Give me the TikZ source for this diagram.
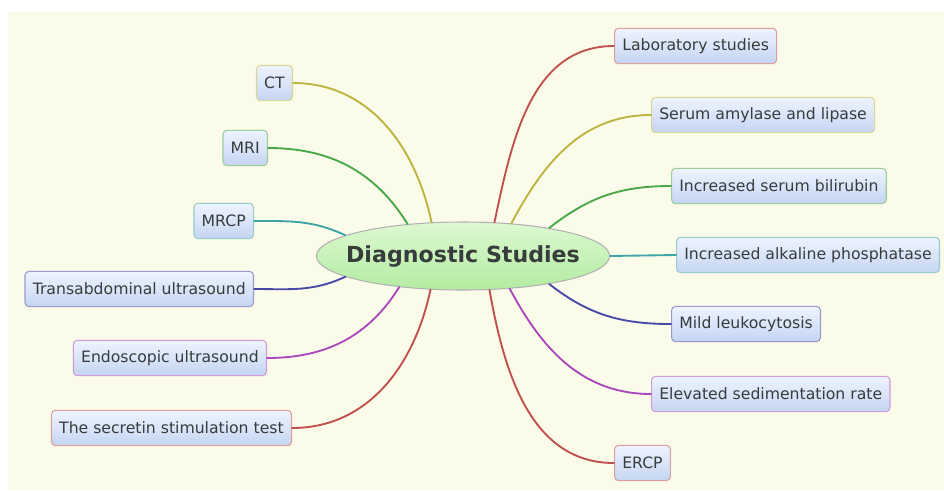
\documentclass[tikz,border=0pt]{standalone}
\usepackage{fontspec}
\setmainfont{DejaVu Sans}
\usetikzlibrary{shapes.geometric}

\definecolor{cream}{RGB}{251,251,233}
\definecolor{boxtop}{RGB}{238,244,255}
\definecolor{boxbot}{RGB}{196,213,242}
\definecolor{hubtop}{RGB}{222,248,210}
\definecolor{hubbot}{RGB}{178,236,160}
\definecolor{ink}{RGB}{55,60,60}
\definecolor{cred}{RGB}{192,80,77}
\definecolor{colive}{RGB}{188,180,62}
\definecolor{cgreen}{RGB}{72,168,72}
\definecolor{cteal}{RGB}{62,164,168}
\definecolor{cblue}{RGB}{72,72,168}
\definecolor{cpurple}{RGB}{170,72,188}

\tikzset{
  leaf/.style={draw=#1!55, line width=0.8pt, rounded corners=3pt,
    top color=boxtop, bottom color=boxbot, text=ink,
    minimum height=26.5pt, inner xsep=5.8pt, font=\fontsize{11.75}{13}\selectfont},
  hub/.style={ellipse, draw=gray!60, line width=0.8pt, top color=hubtop,
    bottom color=hubbot, minimum width=220pt, minimum height=51pt, inner sep=0pt},
  branch/.style={draw=#1, line width=1.4pt, line cap=round}
}

\begin{document}
\begin{tikzpicture}[x=0.75pt, y=-0.75pt]
    % pozadí
    \useasboundingbox (0,0) rectangle (944,490);
    \fill[white] (0,0) rectangle (944,490);
    \fill[cream] (8,12) rectangle (944,490);

    % střed
    \node[hub] (hub) at (463,256) {};
    \node[text=ink, font=\bfseries\fontsize{16.6}{20}\selectfont] (hubtext) at (hub) {Diagnostic Studies};

    % vpravo
    \node[leaf=cred, anchor=west] (lab) at (614,46) {Laboratory studies};
    \node[leaf=colive, anchor=west] (amyl) at (651,115) {Serum amylase and lipase};
    \node[leaf=cgreen, anchor=west] (bili) at (671,186) {Increased serum bilirubin};
    \node[leaf=cteal, anchor=west] (alka) at (676,255) {Increased alkaline phosphatase};
    \node[leaf=cblue, anchor=west] (leuk) at (671,324) {Mild leukocytosis};
    \node[leaf=cpurple, anchor=west] (sedi) at (651,394) {Elevated sedimentation rate};
    \node[leaf=cred, anchor=west] (ercp) at (614,463) {ERCP};

    % vlevo
    \node[leaf=colive, anchor=east] (ct) at (293,83) {CT};
    \node[leaf=cgreen, anchor=east] (mri) at (268,148) {MRI};
    \node[leaf=cteal, anchor=east] (mrcp) at (254,221) {MRCP};
    \node[leaf=cblue, anchor=east] (trus) at (254,289) {Transabdominal ultrasound};
    \node[leaf=cpurple, anchor=east] (eus) at (267,358) {Endoscopic ultrasound};
    \node[leaf=cred, anchor=east] (sst) at (292,428) {The secretin stimulation test};

    % větve
    \draw[branch=cred] (hub.47) to[out=78, in=180] (lab.west);
    \draw[branch=colive] (hub.34) to[out=62, in=180] (amyl.west);
    \draw[branch=cgreen] (hub.18) to[out=38, in=180] (bili.west);
    \draw[branch=cteal] (hub.0) -- (alka.west);
    \draw[branch=cblue] (hub.-18) to[out=-38, in=180] (leuk.west);
    \draw[branch=cpurple] (hub.-35) to[out=-62, in=180] (sedi.west);
    \draw[branch=cred] (hub.-52) to[out=-80, in=180] (ercp.west);

    \draw[branch=colive] (hub.133) to[out=102, in=0] (ct.east);
    \draw[branch=cgreen] (hub.150) to[out=122, in=0] (mri.east);
    \draw[branch=cteal] (hub.170) to[out=155, in=0] (mrcp.east);
    \draw[branch=cblue] (hub.190) to[out=205, in=0] (trus.east);
    \draw[branch=cpurple] (hub.206) to[out=238, in=0] (eus.east);
    \draw[branch=cred] (hub.226) to[out=258, in=0] (sst.east);
\end{tikzpicture}
\end{document}
